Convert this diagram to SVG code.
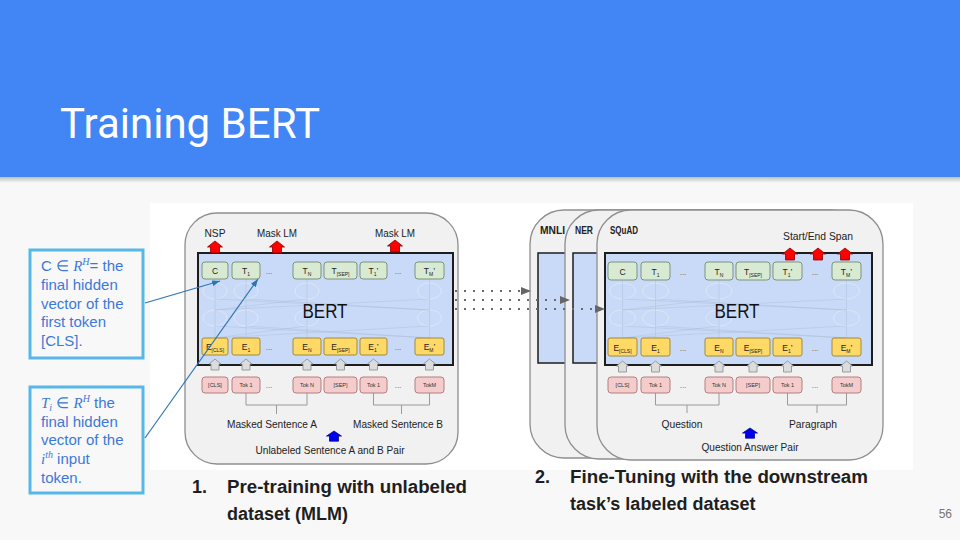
<svg xmlns="http://www.w3.org/2000/svg" xmlns:xlink="http://www.w3.org/1999/xlink" width="960" height="540" viewBox="0 0 960 540">
<defs>
<style>
.sans{font-family:"Liberation Sans",Arial,sans-serif}
.lbl{font-family:"Liberation Sans",Arial,sans-serif;font-size:11px;fill:#222;text-anchor:middle}
.bl{font-family:"Liberation Sans",Arial,sans-serif;font-size:11.5px;font-weight:bold;fill:#222}
.tb{fill:#d9ead3;stroke:#7c9478;stroke-width:1}
.eb{fill:#ffd966;stroke:#a08a3c;stroke-width:1}
.kb{fill:#f4cccc;stroke:#b57f7f;stroke-width:1}
.bt{font-family:"Liberation Sans",Arial,sans-serif;font-size:8.5px;fill:#222;text-anchor:middle}
.kt{font-family:"Liberation Sans",Arial,sans-serif;font-size:5.5px;fill:#333;text-anchor:middle}
.dt{font-family:"Liberation Sans",Arial,sans-serif;font-size:8px;fill:#555;text-anchor:middle}
.sb{font-size:5px}
.card{fill:#f1f1f1;stroke:#8e8e8e;stroke-width:1.3}
.bert{fill:#c9daf8;stroke:#1d1d1d;stroke-width:2}
.bert2{fill:#c9daf8;stroke:#1d1d1d;stroke-width:1.5}
.brk{fill:none;stroke:#9a9a9a;stroke-width:1}
.nn{fill:none;stroke:#dde6f5;stroke-width:1}
.nl{fill:none;stroke:#aab9d3;stroke-width:0.8;opacity:0.5}
.ga{fill:#dcdcdc;stroke:#8a8a8a;stroke-width:0.8}
.ra{fill:#f00;stroke:#8a0000;stroke-width:0.8}
.ua{fill:#0000f0;stroke:#000080;stroke-width:0.8}
.cb{fill:#f8f8f8;stroke:#55b8e8;stroke-width:3}
.ct{font-family:"Liberation Sans",Arial,sans-serif;font-size:15px;fill:#3d78d8}
.m{font-family:"Liberation Serif","Times New Roman",serif;font-style:italic}
.cap{font-family:"Liberation Sans",Arial,sans-serif;font-size:18px;font-weight:bold;fill:#1e1e1e}
.dot{fill:none;stroke:#6a6a6a;stroke-width:2;stroke-dasharray:2 7}
.cl{fill:none;stroke:#2e75b6;stroke-width:1.2}
</style>
<linearGradient id="sh" x1="0" y1="0" x2="0" y2="1">
<stop offset="0" stop-color="#000" stop-opacity="0.22"/>
<stop offset="1" stop-color="#000" stop-opacity="0"/>
</linearGradient>
<path id="gArr" d="M0,0 l6,5 h-2 v6 h-8 v-6 h-2 z"/>
<path id="rArr" d="M0,0 l7.5,6 h-3 v6 h-9 v-6 h-3 z"/>
<marker id="gtri" viewBox="0 0 10 8" refX="10" refY="4" markerWidth="11" markerHeight="8" markerUnits="userSpaceOnUse" orient="auto">
<path d="M0,0 L10,4 L0,8 z" fill="#666"/>
</marker>
<marker id="btri" viewBox="0 0 8 6" refX="8" refY="3" markerWidth="8" markerHeight="6" markerUnits="userSpaceOnUse" orient="auto">
<path d="M0,0 L8,3 L0,6 z" fill="#2e75b6"/>
</marker>
</defs>

<rect width="960" height="540" fill="#f8f8f8"/>
<g id="header">
<rect x="0" y="0" width="960" height="177" fill="#4285f4"/>
<rect x="0" y="177" width="960" height="6" fill="url(#sh)"/>
<text x="60" y="138" font-family="Roboto,'Liberation Sans',sans-serif" font-size="42" fill="#fff">Training BERT</text>
</g>

<rect x="150" y="203" width="763" height="267" fill="#fff"/>

<g id="pretrain-panel">
<rect class="card" x="185" y="213" width="273" height="251" rx="32"/>
<text class="lbl" x="215" y="237" textLength="21" lengthAdjust="spacingAndGlyphs">NSP</text>
<text class="lbl" x="277" y="237" textLength="40" lengthAdjust="spacingAndGlyphs">Mask LM</text>
<text class="lbl" x="395" y="237" textLength="40" lengthAdjust="spacingAndGlyphs">Mask LM</text>
<rect class="bert" x="198" y="253" width="255" height="112"/>
<use href="#rArr" class="ra" x="215" y="241"/>
<use href="#rArr" class="ra" x="277" y="241"/>
<use href="#rArr" class="ra" x="395" y="240"/>
<g>
<ellipse class="nn" cx="215" cy="291" rx="12" ry="8"/><ellipse class="nn" cx="246" cy="291" rx="12" ry="8"/><ellipse class="nn" cx="307" cy="291" rx="12" ry="8"/><ellipse class="nn" cx="429.5" cy="291" rx="12" ry="8"/>
<ellipse class="nn" cx="215" cy="318" rx="12" ry="8"/><ellipse class="nn" cx="246" cy="318" rx="12" ry="8"/><ellipse class="nn" cx="307" cy="318" rx="12" ry="8"/><ellipse class="nn" cx="429.5" cy="318" rx="12" ry="8"/>
<path class="nl" d="M215 279V338M246 279V338M307 279V338M429.5 279V338M215 299L429.5 310M429.5 299L215 310M246 299L429.5 310M307 299L215 310M215 326L429.5 338M429.5 326L215 338M246 326L429.5 338M307 326L215 338"/>
</g>
<text x="325" y="318" font-family="'Liberation Sans',Arial,sans-serif" font-size="20" fill="#111" text-anchor="middle" textLength="45" lengthAdjust="spacingAndGlyphs">BERT</text>
<rect class="tb" x="202" y="262" width="26" height="17" rx="3"/><text class="bt" x="215" y="274">C</text>
<rect class="tb" x="232" y="262" width="28" height="17" rx="3"/><text class="bt" x="246" y="274">T<tspan class="sb" dy="2">1</tspan></text>
<text class="dt" x="269" y="274">...</text>
<rect class="tb" x="293" y="262" width="28" height="17" rx="3"/><text class="bt" x="307" y="274">T<tspan class="sb" dy="2">N</tspan></text>
<rect class="tb" x="324" y="262" width="33" height="17" rx="3"/><text class="bt" x="340.5" y="274">T<tspan class="sb" dy="2">[SEP]</tspan></text>
<rect class="tb" x="360" y="262" width="27" height="17" rx="3"/><text class="bt" x="373.5" y="274">T<tspan class="sb" dy="2">1</tspan><tspan dy="-2">’</tspan></text>
<text class="dt" x="398" y="274">...</text>
<rect class="tb" x="415" y="262" width="29" height="17" rx="3"/><text class="bt" x="429.5" y="274">T<tspan class="sb" dy="2">M</tspan><tspan dy="-2">’</tspan></text>
<rect class="eb" x="202" y="338" width="26" height="17" rx="2"/><text class="bt" x="215" y="350">E<tspan class="sb" dy="2">[CLS]</tspan></text>
<rect class="eb" x="232" y="338" width="28" height="17" rx="2"/><text class="bt" x="246" y="350">E<tspan class="sb" dy="2">1</tspan></text>
<text class="dt" x="269" y="350">...</text>
<rect class="eb" x="293" y="338" width="28" height="17" rx="2"/><text class="bt" x="307" y="350">E<tspan class="sb" dy="2">N</tspan></text>
<rect class="eb" x="324" y="338" width="33" height="17" rx="2"/><text class="bt" x="340.5" y="350">E<tspan class="sb" dy="2">[SEP]</tspan></text>
<rect class="eb" x="360" y="338" width="27" height="17" rx="2"/><text class="bt" x="373.5" y="350">E<tspan class="sb" dy="2">1</tspan><tspan dy="-2">’</tspan></text>
<text class="dt" x="398" y="350">...</text>
<rect class="eb" x="415" y="338" width="29" height="17" rx="2"/><text class="bt" x="429.5" y="350">E<tspan class="sb" dy="2">M</tspan><tspan dy="-2">’</tspan></text>
<use href="#gArr" class="ga" x="215" y="359"/><use href="#gArr" class="ga" x="246" y="359"/><use href="#gArr" class="ga" x="307" y="359"/><use href="#gArr" class="ga" x="340.5" y="359"/><use href="#gArr" class="ga" x="373.5" y="359"/><use href="#gArr" class="ga" x="429.5" y="359"/>
<rect class="kb" x="202" y="377" width="26" height="16" rx="3"/><text class="kt" x="215" y="387">[CLS]</text>
<rect class="kb" x="232" y="377" width="28" height="16" rx="3"/><text class="kt" x="246" y="387">Tok 1</text>
<text class="dt" x="269" y="388">...</text>
<rect class="kb" x="293" y="377" width="28" height="16" rx="3"/><text class="kt" x="307" y="387">Tok N</text>
<rect class="kb" x="324" y="377" width="33" height="16" rx="3"/><text class="kt" x="340.5" y="387">[SEP]</text>
<rect class="kb" x="360" y="377" width="27" height="16" rx="3"/><text class="kt" x="373.5" y="387">Tok 1</text>
<text class="dt" x="398" y="388">...</text>
<rect class="kb" x="415" y="377" width="29" height="16" rx="3"/><text class="kt" x="429.5" y="387">TokM</text>
<path class="brk" d="M246 393V405H307V393M276.5 405V414M373.5 393V405H429.5V393M401.5 405V414"/>
<text class="lbl" x="272" y="428" textLength="90" lengthAdjust="spacingAndGlyphs">Masked Sentence A</text>
<text class="lbl" x="398" y="428" textLength="90" lengthAdjust="spacingAndGlyphs">Masked Sentence B</text>
<use href="#rArr" class="ua" x="334" y="431" transform="translate(334 431) scale(1 0.85) translate(-334 -431)"/>
<text class="lbl" x="330" y="454" textLength="149" lengthAdjust="spacingAndGlyphs">Unlabeled Sentence A and B Pair</text>
</g>

<g id="card-mnli">
<rect class="card" x="530" y="210" width="300" height="248" rx="34"/>
<text class="bl" x="540" y="234" textLength="25" lengthAdjust="spacingAndGlyphs">MNLI</text>
<rect class="bert2" x="538" y="253" width="200" height="110"/>
</g>
<g id="card-ner">
<rect class="card" x="565" y="210" width="300" height="249" rx="34"/>
<text class="bl" x="575" y="234" textLength="18" lengthAdjust="spacingAndGlyphs">NER</text>
<rect class="bert2" x="573" y="253" width="200" height="110"/>
</g>
<g id="card-squad">
<rect class="card" x="597" y="210" width="286" height="250" rx="34"/>
<text class="bl" x="610" y="234" textLength="28" lengthAdjust="spacingAndGlyphs">SQuAD</text>
<text class="lbl" x="818" y="240" textLength="70" lengthAdjust="spacingAndGlyphs">Start/End Span</text>
<rect class="bert" x="605" y="253" width="267" height="112"/>
<use href="#rArr" class="ra" x="790" y="248"/>
<use href="#rArr" class="ra" x="818" y="248"/>
<use href="#rArr" class="ra" x="845" y="248"/>
<g>
<ellipse class="nn" cx="622.5" cy="291" rx="13" ry="8"/><ellipse class="nn" cx="655.5" cy="291" rx="13" ry="8"/><ellipse class="nn" cx="719" cy="291" rx="13" ry="8"/><ellipse class="nn" cx="846.5" cy="291" rx="13" ry="8"/>
<ellipse class="nn" cx="622.5" cy="318" rx="13" ry="8"/><ellipse class="nn" cx="655.5" cy="318" rx="13" ry="8"/><ellipse class="nn" cx="719" cy="318" rx="13" ry="8"/><ellipse class="nn" cx="846.5" cy="318" rx="13" ry="8"/>
<path class="nl" d="M622.5 280V338M655.5 280V338M719 280V338M846.5 280V338M622.5 299L846.5 310M846.5 299L622.5 310M655.5 299L846.5 310M719 299L622.5 310M622.5 326L846.5 338M846.5 326L622.5 338M655.5 326L846.5 338M719 326L622.5 338"/>
</g>
<text x="737" y="318" font-family="'Liberation Sans',Arial,sans-serif" font-size="20" fill="#111" text-anchor="middle" textLength="45" lengthAdjust="spacingAndGlyphs">BERT</text>
<rect class="tb" x="608" y="262" width="29" height="18" rx="3"/><text class="bt" x="622.5" y="274.5">C</text>
<rect class="tb" x="641" y="262" width="29" height="18" rx="3"/><text class="bt" x="655.5" y="274.5">T<tspan class="sb" dy="2">1</tspan></text>
<text class="dt" x="683" y="275">...</text>
<rect class="tb" x="705" y="262" width="28" height="18" rx="3"/><text class="bt" x="719" y="274.5">T<tspan class="sb" dy="2">N</tspan></text>
<rect class="tb" x="736" y="262" width="34" height="18" rx="3"/><text class="bt" x="753" y="274.5">T<tspan class="sb" dy="2">[SEP]</tspan></text>
<rect class="tb" x="773" y="262" width="29" height="18" rx="3"/><text class="bt" x="787.5" y="274.5">T<tspan class="sb" dy="2">1</tspan><tspan dy="-2">’</tspan></text>
<text class="dt" x="815" y="275">...</text>
<rect class="tb" x="832" y="262" width="29" height="18" rx="3"/><text class="bt" x="846.5" y="274.5">T<tspan class="sb" dy="2">M</tspan><tspan dy="-2">’</tspan></text>
<rect class="eb" x="608" y="338" width="29" height="18" rx="2"/><text class="bt" x="622.5" y="350.5">E<tspan class="sb" dy="2">[CLS]</tspan></text>
<rect class="eb" x="641" y="338" width="29" height="18" rx="2"/><text class="bt" x="655.5" y="350.5">E<tspan class="sb" dy="2">1</tspan></text>
<text class="dt" x="683" y="351">...</text>
<rect class="eb" x="705" y="338" width="28" height="18" rx="2"/><text class="bt" x="719" y="350.5">E<tspan class="sb" dy="2">N</tspan></text>
<rect class="eb" x="736" y="338" width="34" height="18" rx="2"/><text class="bt" x="753" y="350.5">E<tspan class="sb" dy="2">[SEP]</tspan></text>
<rect class="eb" x="773" y="338" width="29" height="18" rx="2"/><text class="bt" x="787.5" y="350.5">E<tspan class="sb" dy="2">1</tspan><tspan dy="-2">’</tspan></text>
<text class="dt" x="815" y="351">...</text>
<rect class="eb" x="832" y="338" width="29" height="18" rx="2"/><text class="bt" x="846.5" y="350.5">E<tspan class="sb" dy="2">M</tspan><tspan dy="-2">’</tspan></text>
<use href="#gArr" class="ga" x="622.5" y="361"/><use href="#gArr" class="ga" x="655.5" y="361"/><use href="#gArr" class="ga" x="719" y="361"/><use href="#gArr" class="ga" x="753" y="361"/><use href="#gArr" class="ga" x="787.5" y="361"/><use href="#gArr" class="ga" x="846.5" y="361"/>
<rect class="kb" x="608" y="377" width="29" height="16" rx="3"/><text class="kt" x="622.5" y="387">[CLS]</text>
<rect class="kb" x="641" y="377" width="29" height="16" rx="3"/><text class="kt" x="655.5" y="387">Tok 1</text>
<text class="dt" x="683" y="388">...</text>
<rect class="kb" x="705" y="377" width="28" height="16" rx="3"/><text class="kt" x="719" y="387">Tok N</text>
<rect class="kb" x="736" y="377" width="34" height="16" rx="3"/><text class="kt" x="753" y="387">[SEP]</text>
<rect class="kb" x="773" y="377" width="29" height="16" rx="3"/><text class="kt" x="787.5" y="387">Tok 1</text>
<text class="dt" x="815" y="388">...</text>
<rect class="kb" x="832" y="377" width="29" height="16" rx="3"/><text class="kt" x="846.5" y="387">TokM</text>
<path class="brk" d="M655.5 393V405H719V393M687 405V413M787.5 393V405H846.5V393M817 405V413"/>
<text class="lbl" x="682" y="428" textLength="41" lengthAdjust="spacingAndGlyphs">Question</text>
<text class="lbl" x="813" y="428" textLength="48" lengthAdjust="spacingAndGlyphs">Paragraph</text>
<use href="#rArr" class="ua" x="750" y="428" transform="translate(750 428) scale(1 0.85) translate(-750 -428)"/>
<text class="lbl" x="750" y="451" textLength="97" lengthAdjust="spacingAndGlyphs">Question Answer Pair</text>
</g>

<g id="callout-cls">
<rect class="cb" x="30" y="250" width="113" height="108"/>
<text class="ct" x="41" y="271">C ∈ <tspan class="m">R</tspan><tspan class="m" font-size="10" dy="-6">H</tspan><tspan dy="6">= the</tspan></text>
<text class="ct" x="41" y="290">final hidden</text>
<text class="ct" x="41" y="309">vector of the</text>
<text class="ct" x="41" y="327">first token</text>
<text class="ct" x="41" y="346">[CLS].</text>
</g>
<g id="callout-ti">
<rect class="cb" x="30" y="387" width="113" height="106"/>
<text class="ct" x="41" y="408"><tspan class="m">T</tspan><tspan class="m" font-size="10" dy="3">i</tspan><tspan dy="-3"> ∈ </tspan><tspan class="m">R</tspan><tspan class="m" font-size="10" dy="-6">H</tspan><tspan dy="6"> the</tspan></text>
<text class="ct" x="41" y="427">final hidden</text>
<text class="ct" x="41" y="445">vector of the</text>
<text class="ct" x="41" y="464"><tspan class="m">i</tspan><tspan class="m" font-size="10" dy="-6">th</tspan><tspan dy="6"> input</tspan></text>
<text class="ct" x="41" y="483">token.</text>
</g>

<g id="connectors">
<path class="dot" d="M455 291H531" marker-end="url(#gtri)"/>
<path class="dot" d="M455 300H570" marker-end="url(#gtri)"/>
<path class="dot" d="M455 309H605" marker-end="url(#gtri)"/>
<path class="cl" d="M145 303L220 281" marker-end="url(#btri)"/>
<path class="cl" d="M145 438L258 279" marker-end="url(#btri)"/>
</g>

<g id="captions">
<text class="cap" x="192" y="493">1.</text>
<text class="cap" x="227" y="493" textLength="240" lengthAdjust="spacingAndGlyphs">Pre-training with unlabeled</text>
<text class="cap" x="227" y="520">dataset (MLM)</text>
<text class="cap" x="535" y="483">2.</text>
<text class="cap" x="570" y="483" textLength="298" lengthAdjust="spacingAndGlyphs">Fine-Tuning with the downstream</text>
<text class="cap" x="570" y="510">task’s labeled dataset</text>
<text x="952" y="518" font-family="'Liberation Sans',Arial,sans-serif" font-size="12" fill="#757575" text-anchor="end">56</text>
</g>
</svg>
